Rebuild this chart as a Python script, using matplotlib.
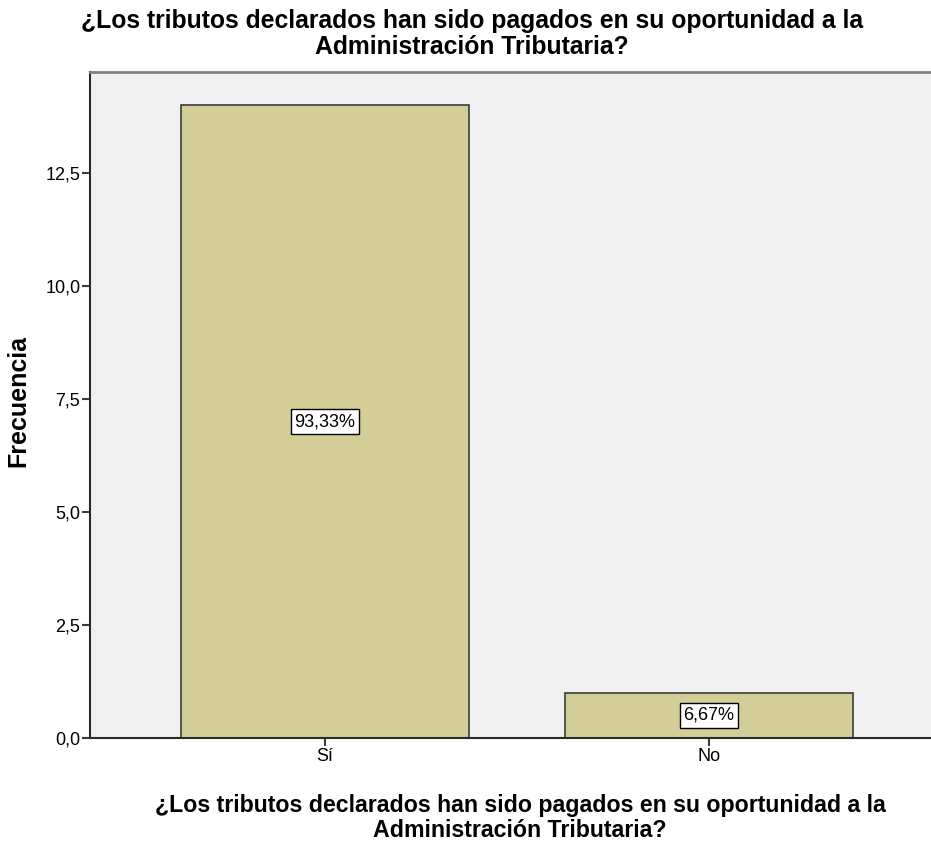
import matplotlib
matplotlib.use("Agg")
import matplotlib.pyplot as plt

plt.rcParams["font.family"] = ["Liberation Sans", "DejaVu Sans"]
NARROW = ["Liberation Sans Narrow", "Liberation Sans", "DejaVu Sans"]

categories = ["Sí", "No"]
counts = [14, 1]
percent_labels = ["93,33%", "6,67%"]
y_ticks = [0.0, 2.5, 5.0, 7.5, 10.0, 12.5]
y_tick_labels = ["0,0", "2,5", "5,0", "7,5", "10,0", "12,5"]

question = ("¿Los tributos declarados han sido pagados en su oportunidad a la\n"
            "Administración Tributaria?")

W, H = 931, 843
fig = plt.figure(figsize=(W / 100, H / 100), dpi=100)
# plot area runs past the right edge, as in the original export
ax = fig.add_axes([90 / W, 1 - 738 / H, (944 - 90) / W, (738 - 72) / H])
ax.set_facecolor("#f0f0f0")

x = list(range(len(categories)))
ax.bar(x, counts, width=0.75, color="#d3ce97", edgecolor="#3c3c3c", linewidth=1.2, zorder=2)

for xi, c, lab in zip(x, counts, percent_labels):
    ax.text(xi, c / 2, lab, ha="center", va="center", fontsize=13, family=NARROW, zorder=3,
            bbox=dict(boxstyle="square,pad=0.2", facecolor="white", edgecolor="black", linewidth=1))

ax.set_xlim(-0.612, 1.612)
ax.set_ylim(0, 14.73)
ax.set_xticks(x)
ax.set_xticklabels(categories, fontsize=13, family=NARROW)
ax.set_yticks(y_ticks)
ax.set_yticklabels(y_tick_labels, fontsize=13, family=NARROW)
ax.tick_params(axis="both", direction="out", length=6, width=1.5, color="#3c3c3c", pad=1)

for side in ["left", "bottom"]:
    ax.spines[side].set_color("#2a2a2a")
    ax.spines[side].set_linewidth(1.5)
ax.spines["top"].set_color("#808080")
ax.spines["top"].set_linewidth(2)
ax.spines["right"].set_visible(False)

fig.text(472 / W, 1 - 34 / H, question, ha="center", va="center",
         fontsize=17.8, fontweight="bold", linespacing=1.15)
fig.text(520 / W, 1 - 818 / H, question, ha="center", va="center",
         fontsize=16.7, fontweight="bold", linespacing=1.1)
fig.text(18 / W, 1 - 401 / H, "Frecuencia", ha="center", va="center",
         rotation=90, fontsize=18, fontweight="bold")

fig.savefig("out.png", dpi=100)
